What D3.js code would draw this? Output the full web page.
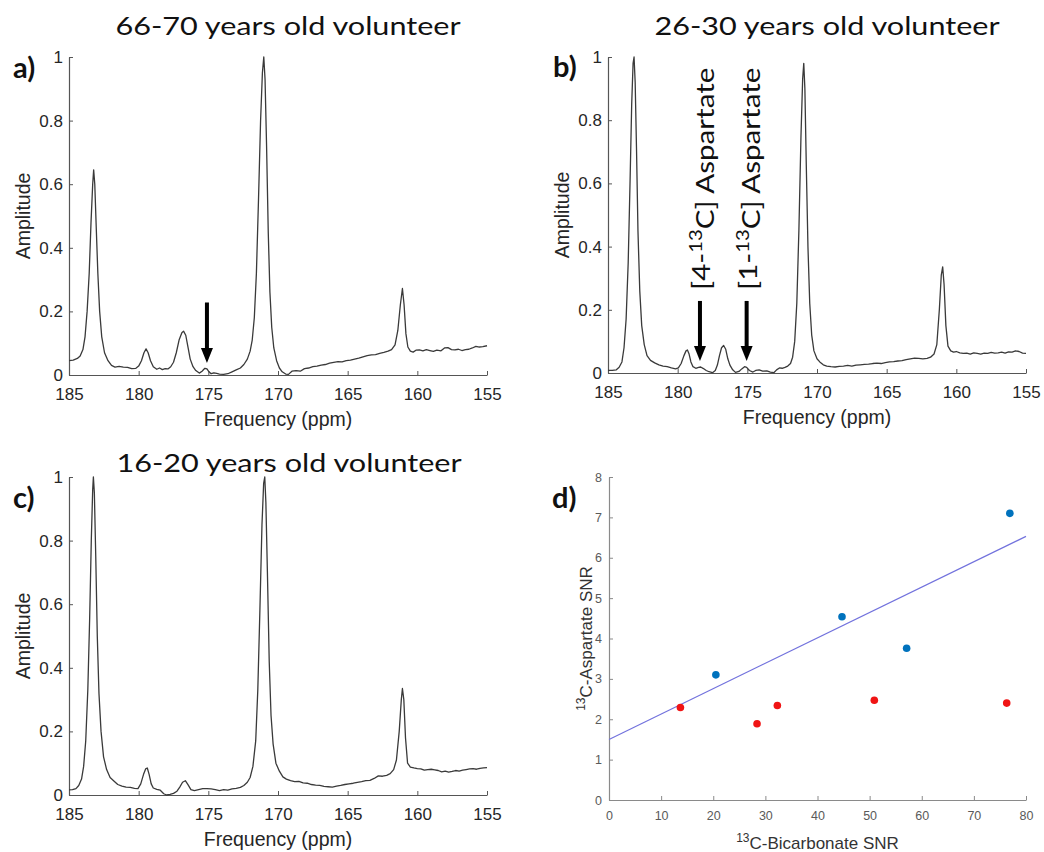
<!DOCTYPE html>
<html>
<head>
<meta charset="utf-8">
<script src="https://cdn.jsdelivr.net/npm/d3@7"></script>
<style>
  body { margin: 0; background: #fff; }
  svg text { font-family: "Liberation Sans", Arial, sans-serif; }
  .title, .note, .letter { font-family: Lato, "Open Sans", sans-serif; }
</style>
</head>
<body>
<svg id="fig" width="1044" height="852"></svg>
<script>
// ---- tick labels ----
const ppmTicks = [185, 180, 175, 170, 165, 160, 155];
const ampTicks = [0, 0.2, 0.4, 0.6, 0.8, 1];
const bicarbTicks = [0, 10, 20, 30, 40, 50, 60, 70, 80];
const aspTicks = [0, 1, 2, 3, 4, 5, 6, 7, 8];

// ---- spectra, [ppm, amplitude] ----
const spec6670 = [[185.0,0.045],[184.7,0.047],[184.4,0.052],[184.2,0.06],[184.0,0.08],[183.85,0.12],[183.7,0.2],[183.55,0.32],[183.42,0.48],[183.3,0.6],[183.23,0.645],[183.15,0.6],[183.05,0.47],[182.93,0.32],[182.8,0.2],[182.65,0.12],[182.45,0.07],[182.2,0.045],[181.95,0.03],[181.7,0.025],[181.4,0.027],[181.1,0.025],[180.8,0.024],[180.5,0.02],[180.2,0.021],[180.0,0.028],[179.8,0.045],[179.62,0.07],[179.47,0.082],[179.32,0.07],[179.15,0.045],[178.95,0.026],[178.7,0.018],[178.5,0.022],[178.3,0.017],[178.1,0.02],[177.9,0.019],[177.7,0.026],[177.5,0.04],[177.3,0.07],[177.1,0.11],[176.9,0.133],[176.78,0.138],[176.62,0.125],[176.45,0.085],[176.3,0.05],[176.1,0.026],[175.9,0.014],[175.65,0.006],[175.45,0.012],[175.25,0.021],[175.1,0.019],[174.95,0.01],[174.8,0.004],[174.6,0.007],[174.4,0.005],[174.2,0.003],[173.9,0.002],[173.6,0.004],[173.3,0.01],[173.0,0.016],[172.7,0.022],[172.45,0.033],[172.2,0.05],[172.0,0.075],[171.85,0.11],[171.7,0.18],[171.55,0.32],[171.4,0.55],[171.25,0.8],[171.12,0.95],[171.02,1.0],[170.93,0.93],[170.82,0.72],[170.7,0.45],[170.58,0.26],[170.45,0.15],[170.3,0.085],[170.1,0.045],[169.9,0.022],[169.7,0.01],[169.45,0.003],[169.25,0.002],[169.0,0.012],[168.7,0.014],[168.4,0.012],[168.1,0.02],[167.8,0.022],[167.5,0.026],[167.2,0.028],[166.9,0.031],[166.6,0.033],[166.3,0.037],[166.0,0.04],[165.7,0.042],[165.4,0.041],[165.1,0.045],[164.8,0.047],[164.5,0.05],[164.2,0.053],[163.9,0.057],[163.6,0.061],[163.3,0.063],[163.0,0.064],[162.7,0.068],[162.4,0.071],[162.1,0.075],[161.85,0.08],[161.6,0.095],[161.4,0.14],[161.22,0.22],[161.07,0.272],[160.95,0.22],[160.82,0.13],[160.68,0.088],[160.5,0.075],[160.3,0.072],[160.1,0.078],[159.85,0.079],[159.6,0.076],[159.35,0.08],[159.1,0.077],[158.85,0.074],[158.6,0.078],[158.3,0.076],[158.05,0.085],[157.8,0.086],[157.55,0.08],[157.3,0.079],[157.05,0.081],[156.8,0.077],[156.55,0.08],[156.3,0.081],[156.05,0.085],[155.8,0.09],[155.55,0.088],[155.3,0.089],[155.0,0.092]];

const spec2630 = [[185.0,0.008],[184.7,0.008],[184.4,0.01],[184.2,0.018],[184.0,0.035],[183.85,0.08],[183.7,0.17],[183.55,0.35],[183.42,0.6],[183.3,0.85],[183.2,0.98],[183.13,1.0],[183.05,0.92],[182.95,0.7],[182.85,0.45],[182.72,0.26],[182.58,0.15],[182.4,0.09],[182.2,0.055],[181.95,0.04],[181.65,0.032],[181.35,0.026],[181.05,0.022],[180.75,0.02],[180.45,0.016],[180.15,0.013],[179.95,0.016],[179.75,0.03],[179.55,0.055],[179.4,0.07],[179.3,0.073],[179.18,0.06],[179.05,0.035],[178.9,0.02],[178.7,0.015],[178.5,0.018],[178.35,0.019],[178.15,0.014],[177.95,0.008],[177.75,0.004],[177.5,0.001],[177.3,0.008],[177.15,0.025],[177.0,0.055],[176.85,0.08],[176.7,0.087],[176.55,0.075],[176.4,0.045],[176.25,0.025],[176.05,0.01],[175.85,0.002],[175.6,0.005],[175.4,0.013],[175.2,0.02],[175.05,0.018],[174.85,0.008],[174.6,0.003],[174.4,0.008],[174.15,0.01],[173.9,0.006],[173.6,0.007],[173.35,0.003],[173.1,0.001],[172.9,0.01],[172.7,0.016],[172.5,0.015],[172.3,0.018],[172.1,0.022],[171.9,0.03],[171.75,0.05],[171.6,0.1],[171.45,0.22],[171.3,0.45],[171.15,0.75],[171.03,0.93],[170.95,0.98],[170.87,0.9],[170.77,0.66],[170.65,0.4],[170.52,0.22],[170.38,0.12],[170.22,0.07],[170.0,0.045],[169.8,0.035],[169.55,0.026],[169.3,0.022],[169.0,0.02],[168.7,0.019],[168.4,0.021],[168.1,0.022],[167.8,0.024],[167.5,0.022],[167.2,0.025],[166.9,0.026],[166.6,0.027],[166.3,0.028],[166.0,0.03],[165.7,0.031],[165.4,0.03],[165.1,0.033],[164.8,0.035],[164.5,0.036],[164.2,0.038],[163.9,0.039],[163.6,0.042],[163.3,0.045],[163.0,0.047],[162.7,0.046],[162.4,0.045],[162.1,0.046],[161.85,0.05],[161.6,0.06],[161.4,0.09],[161.22,0.2],[161.08,0.31],[160.98,0.336],[160.88,0.28],[160.75,0.15],[160.6,0.085],[160.4,0.07],[160.2,0.066],[160.0,0.068],[159.75,0.064],[159.5,0.062],[159.25,0.063],[159.0,0.06],[158.75,0.064],[158.5,0.062],[158.25,0.06],[158.0,0.063],[157.75,0.062],[157.5,0.065],[157.25,0.063],[157.0,0.064],[156.75,0.066],[156.5,0.063],[156.25,0.067],[156.0,0.066],[155.75,0.07],[155.5,0.068],[155.25,0.063],[155.0,0.062]];

const spec1620 = [[185.0,0.016],[184.75,0.017],[184.5,0.02],[184.3,0.03],[184.1,0.05],[183.95,0.09],[183.8,0.17],[183.65,0.33],[183.52,0.55],[183.4,0.8],[183.3,0.96],[183.25,1.0],[183.18,0.95],[183.08,0.75],[182.97,0.5],[182.85,0.32],[182.7,0.2],[182.52,0.12],[182.3,0.08],[182.05,0.055],[181.8,0.045],[181.5,0.033],[181.2,0.028],[180.9,0.025],[180.6,0.024],[180.3,0.021],[180.05,0.02],[179.85,0.035],[179.65,0.065],[179.5,0.082],[179.38,0.085],[179.25,0.065],[179.1,0.035],[178.95,0.022],[178.7,0.018],[178.45,0.015],[178.2,0.004],[178.0,0.0],[177.75,0.002],[177.5,0.005],[177.25,0.012],[177.05,0.025],[176.85,0.04],[176.65,0.045],[176.45,0.032],[176.25,0.017],[176.0,0.014],[175.7,0.017],[175.4,0.02],[175.1,0.02],[174.8,0.019],[174.5,0.017],[174.2,0.014],[173.9,0.017],[173.6,0.015],[173.3,0.019],[173.0,0.021],[172.7,0.024],[172.45,0.03],[172.2,0.04],[172.0,0.055],[171.8,0.09],[171.6,0.17],[171.45,0.33],[171.3,0.58],[171.15,0.85],[171.03,0.98],[170.95,1.0],[170.87,0.92],[170.76,0.7],[170.63,0.42],[170.5,0.25],[170.35,0.16],[170.15,0.1],[169.9,0.075],[169.65,0.057],[169.4,0.05],[169.1,0.045],[168.8,0.042],[168.5,0.043],[168.2,0.038],[167.9,0.037],[167.6,0.033],[167.3,0.031],[167.0,0.03],[166.7,0.027],[166.4,0.026],[166.1,0.025],[165.8,0.028],[165.5,0.03],[165.2,0.033],[164.9,0.035],[164.6,0.037],[164.3,0.04],[164.0,0.042],[163.7,0.045],[163.4,0.046],[163.1,0.052],[162.8,0.06],[162.5,0.059],[162.2,0.062],[161.95,0.067],[161.7,0.08],[161.5,0.11],[161.3,0.2],[161.15,0.3],[161.07,0.335],[160.97,0.3],[160.85,0.18],[160.7,0.1],[160.5,0.088],[160.25,0.085],[160.0,0.083],[159.75,0.082],[159.5,0.078],[159.25,0.08],[159.0,0.081],[158.75,0.079],[158.5,0.077],[158.25,0.073],[158.0,0.075],[157.75,0.072],[157.5,0.074],[157.25,0.077],[157.0,0.075],[156.75,0.078],[156.5,0.08],[156.25,0.082],[156.0,0.083],[155.75,0.081],[155.5,0.084],[155.25,0.085],[155.0,0.086]];

// ---- arrows / labels (ppm) ----
const arrowsA = [175.1];
const arrowsB = [178.4, 175.05];
const labelsB = ["4", "1"];

// ---- scatter (panel d) ----
const blueBicarb = [20.5, 44.7, 57.1, 76.9];
const blueAsp = [3.1, 4.54, 3.76, 7.1];
const redBicarb = [13.7, 28.4, 32.3, 50.9, 76.3];
const redAsp = [2.29, 1.89, 2.34, 2.47, 2.4];
const fitBicarb = [0, 80];
const fitAsp = [1.5, 6.53];

const svg = d3.select("#fig");

function spectrum(p) {
  const x = d3.scaleLinear().domain([185, 155]).range([p.left, p.right]);
  const y = d3.scaleLinear().domain([0, 1]).range([p.bottom, p.top]);
  const g = svg.append("g");

  const xAxis = g.append("g")
    .attr("transform", `translate(0,${p.bottom})`)
    .call(d3.axisBottom(x).tickValues(ppmTicks).tickSizeInner(-4).tickSizeOuter(0).tickPadding(13));
  const yAxis = g.append("g")
    .attr("transform", `translate(${p.left},0)`)
    .call(d3.axisLeft(y).tickValues(ampTicks).tickFormat(d => String(d)).tickSizeInner(-4).tickSizeOuter(0).tickPadding(6));
  [xAxis, yAxis].forEach(a => {
    a.select(".domain").attr("stroke", "#555").attr("stroke-width", 1.2);
    a.selectAll(".tick line").attr("stroke", "#555");
    a.selectAll("text").attr("font-size", 17).attr("fill", "#262626")
      .attr("font-family", '"Liberation Sans", Arial, sans-serif');
  });

  g.append("path").datum(p.data)
    .attr("fill", "none").attr("stroke", "#3a3a3a").attr("stroke-width", 1.3)
    .attr("stroke-linejoin", "round")
    .attr("d", d3.line().x(d => x(d[0])).y(d => y(d[1])));

  g.append("text").attr("x", (p.left + p.right) / 2).attr("y", p.bottom + 51)
    .attr("text-anchor", "middle").attr("font-size", 19.5).attr("fill", "#262626")
    .text("Frequency (ppm)");
  g.append("text")
    .attr("transform", `translate(${p.left - 39},${(p.top + p.bottom) / 2}) rotate(-90)`)
    .attr("text-anchor", "middle").attr("font-size", 19.5).attr("fill", "#262626")
    .text("Amplitude");

  // titles are set in a wide face: stretch Lato sideways to match
  g.append("text").attr("class", "title")
    .attr("transform", `translate(${p.titleX},${p.titleY}) scale(1.2,1)`)
    .attr("text-anchor", "middle").attr("font-size", 25.5).attr("fill", "#111")
    .text(p.title);
  g.append("text").attr("class", "letter").attr("x", p.letterX).attr("y", p.letterY)
    .attr("font-size", 29).attr("font-weight", "bold").attr("fill", "#111")
    .text(p.letter);

  (p.arrows || []).forEach(a => {
    const ax = x(a), y0 = y(0.228), y1 = y(0.038);
    g.append("line").attr("x1", ax).attr("x2", ax).attr("y1", y0).attr("y2", y1 - 12)
      .attr("stroke", "#000").attr("stroke-width", 4);
    g.append("path").attr("fill", "#000")
      .attr("d", `M${ax - 6},${y1 - 15}L${ax + 6},${y1 - 15}L${ax},${y1}Z`);
  });

  (p.labels || []).forEach((n, i) => {
    const ax = x(p.arrows[i]) + 10;
    const t = g.append("text").attr("class", "note")
      .attr("transform", `translate(${ax},${y(0.263)}) rotate(-90) scale(1.16,1)`)
      .attr("font-size", 25.5).attr("fill", "#111");
    t.append("tspan").text(`[${n}-`);
    t.append("tspan").attr("dy", "-0.45em").attr("font-size", 17.5).text("13");
    t.append("tspan").attr("dy", "0.45em").text("C] Aspartate");
  });
}

spectrum({ data: spec6670, title: "66-70 years old volunteer", letter: "a)",
  left: 69, right: 487, top: 57, bottom: 375, titleX: 288, titleY: 35, letterX: 13, letterY: 78,
  arrows: arrowsA });
spectrum({ data: spec2630, title: "26-30 years old volunteer", letter: "b)",
  left: 608, right: 1026, top: 57, bottom: 373, titleX: 827, titleY: 35, letterX: 553, letterY: 77,
  arrows: arrowsB, labels: labelsB });
spectrum({ data: spec1620, title: "16-20 years old volunteer", letter: "c)",
  left: 69, right: 487, top: 477, bottom: 795, titleX: 289, titleY: 472, letterX: 13, letterY: 508 });

// ---- panel d: scatter ----
(function () {
  const left = 609, right = 1026, top = 477, bottom = 800;
  const x = d3.scaleLinear().domain([0, 80]).range([left, right]);
  const y = d3.scaleLinear().domain([0, 8]).range([bottom, top]);
  const g = svg.append("g");

  const xAxis = g.append("g").attr("transform", `translate(0,${bottom})`)
    .call(d3.axisBottom(x).tickValues(bicarbTicks).tickSizeInner(-4).tickSizeOuter(0).tickPadding(11));
  const yAxis = g.append("g").attr("transform", `translate(${left},0)`)
    .call(d3.axisLeft(y).tickValues(aspTicks).tickSizeInner(-4).tickSizeOuter(0).tickPadding(7));
  [xAxis, yAxis].forEach(a => {
    a.select(".domain").attr("stroke", "#8a8a8a").attr("stroke-width", 1.2);
    a.selectAll(".tick line").attr("stroke", "#8a8a8a");
    a.selectAll("text").attr("font-size", 12.5).attr("fill", "#5a5a5a")
      .attr("font-family", '"Liberation Sans", Arial, sans-serif');
  });

  g.append("path").datum(d3.zip(fitBicarb, fitAsp))
    .attr("fill", "none").attr("stroke", "#7272dd").attr("stroke-width", 1.2)
    .attr("d", d3.line().x(d => x(d[0])).y(d => y(d[1])));

  g.selectAll("circle.blue").data(d3.zip(blueBicarb, blueAsp)).join("circle")
    .attr("class", "blue").attr("cx", d => x(d[0])).attr("cy", d => y(d[1])).attr("r", 3.8)
    .attr("fill", "#0072bd");
  g.selectAll("circle.red").data(d3.zip(redBicarb, redAsp)).join("circle")
    .attr("class", "red").attr("cx", d => x(d[0])).attr("cy", d => y(d[1])).attr("r", 3.8)
    .attr("fill", "#f01414");

  const xl = g.append("text").attr("x", (left + right) / 2).attr("y", 847)
    .attr("text-anchor", "middle").attr("font-size", 17).attr("fill", "#333");
  xl.append("tspan").attr("dy", "-0.45em").attr("font-size", 12).text("13");
  xl.append("tspan").attr("dy", "0.45em").text("C-Bicarbonate SNR");

  const yl = g.append("text")
    .attr("transform", `translate(590,${(top + bottom) / 2}) rotate(-90)`)
    .attr("text-anchor", "middle").attr("font-size", 17).attr("fill", "#333");
  yl.append("tspan").attr("dy", "-0.45em").attr("font-size", 12).text("13");
  yl.append("tspan").attr("dy", "0.45em").text("C-Aspartate SNR");

  g.append("text").attr("class", "letter").attr("x", 552).attr("y", 508)
    .attr("font-size", 29).attr("font-weight", "bold").attr("fill", "#111")
    .text("d)");
})();
</script>
</body>
</html>
